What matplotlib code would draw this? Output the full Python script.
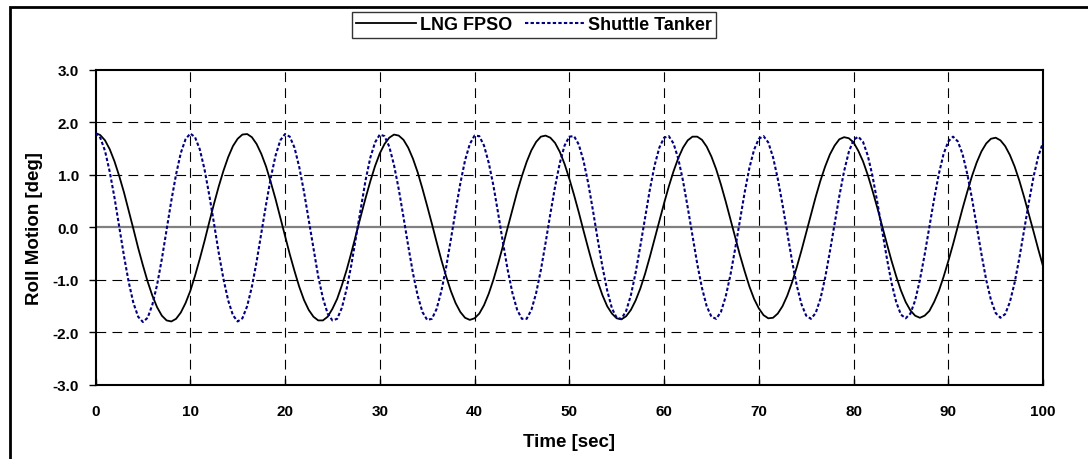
import numpy as np
import matplotlib
matplotlib.use('Agg')
import matplotlib.pyplot as plt
from matplotlib.patches import Rectangle
from matplotlib.ticker import FormatStrFormatter

plt.rcParams['font.family'] = ['Liberation Sans', 'DejaVu Sans']
plt.rcParams['font.weight'] = 'bold'
plt.rcParams['lines.scale_dashes'] = False

# sample times [sec], one reading every 0.5 s
time = np.arange(0, 100.5, 0.5)

# roll motion [deg]
lng_fpso = [
    1.80, 1.76, 1.66, 1.49, 1.26, 0.98, 0.67, 0.32, -0.03, -0.39,
    -0.72, -1.03, -1.30, -1.52, -1.68, -1.77, -1.79, -1.74, -1.62, -1.44,
    -1.21, -0.92, -0.60, -0.26, 0.10, 0.45, 0.78, 1.08, 1.34, 1.55,
    1.69, 1.77, 1.78, 1.72, 1.59, 1.40, 1.16, 0.86, 0.54, 0.19,
    -0.16, -0.51, -0.83, -1.13, -1.38, -1.57, -1.70, -1.77, -1.77, -1.70,
    -1.55, -1.36, -1.10, -0.81, -0.48, -0.13, 0.22, 0.56, 0.88, 1.17,
    1.41, 1.59, 1.71, 1.77, 1.75, 1.67, 1.52, 1.31, 1.05, 0.74,
    0.41, 0.07, -0.28, -0.62, -0.93, -1.21, -1.44, -1.61, -1.72, -1.76,
    -1.73, -1.64, -1.48, -1.26, -0.99, -0.68, -0.35, 0.00, 0.34, 0.68,
    0.98, 1.25, 1.47, 1.63, 1.73, 1.75, 1.71, 1.61, 1.44, 1.21,
    0.93, 0.62, 0.29, -0.06, -0.40, -0.73, -1.03, -1.29, -1.50, -1.64,
    -1.73, -1.75, -1.69, -1.57, -1.39, -1.16, -0.88, -0.56, -0.22, 0.12,
    0.46, 0.78, 1.07, 1.32, 1.52, 1.66, 1.73, 1.73, 1.67, 1.54,
    1.35, 1.11, 0.82, 0.50, 0.16, -0.18, -0.52, -0.83, -1.12, -1.36,
    -1.54, -1.67, -1.73, -1.72, -1.64, -1.50, -1.30, -1.05, -0.76, -0.44,
    -0.10, 0.24, 0.58, 0.89, 1.16, 1.39, 1.56, 1.68, 1.72, 1.70,
    1.62, 1.46, 1.26, 1.00, 0.70, 0.38, 0.04, -0.30, -0.63, -0.93,
    -1.20, -1.42, -1.58, -1.68, -1.72, -1.68, -1.59, -1.42, -1.21, -0.94,
    -0.64, -0.32, 0.02, 0.36, 0.68, 0.98, 1.24, 1.45, 1.60, 1.69,
    1.71, 1.66, 1.55, 1.38, 1.16, 0.89, 0.58, 0.25, -0.08, -0.42,
    -0.74,
]

shuttle_tanker = [
    1.80, 1.71, 1.46, 1.06, 0.57, 0.02, -0.54, -1.04, -1.44, -1.70,
    -1.80, -1.72, -1.47, -1.09, -0.60, -0.05, 0.51, 1.01, 1.42, 1.68,
    1.79, 1.72, 1.49, 1.11, 0.62, 0.08, -0.48, -0.98, -1.39, -1.67,
    -1.79, -1.73, -1.50, -1.13, -0.65, -0.11, 0.44, 0.95, 1.37, 1.66,
    1.78, 1.73, 1.52, 1.15, 0.68, 0.14, -0.41, -0.93, -1.35, -1.64,
    -1.77, -1.74, -1.53, -1.17, -0.71, -0.17, 0.38, 0.90, 1.33, 1.62,
    1.77, 1.74, 1.54, 1.19, 0.73, 0.20, -0.35, -0.87, -1.30, -1.61,
    -1.76, -1.74, -1.55, -1.21, -0.76, -0.23, 0.32, 0.84, 1.28, 1.59,
    1.75, 1.74, 1.56, 1.23, 0.79, 0.26, -0.29, -0.81, -1.25, -1.57,
    -1.74, -1.74, -1.57, -1.25, -0.81, -0.29, 0.26, 0.78, 1.23, 1.56,
    1.73, 1.74, 1.58, 1.27, 0.84, 0.32, -0.23, -0.75, -1.20, -1.54,
    -1.72, -1.74, -1.59, -1.29, -0.86, -0.35, 0.19, 0.72, 1.18, 1.52,
    1.71, 1.74, 1.60, 1.31, 0.89, 0.38, -0.16, -0.69, -1.15, -1.50,
    -1.70, -1.74, -1.61, -1.32, -0.91, -0.41, 0.13, 0.66, 1.13, 1.48,
    1.69, 1.74, 1.62, 1.34, 0.93, 0.44, -0.10, -0.63, -1.10, -1.46,
    -1.68, -1.74, -1.63, -1.36, -0.96, -0.46, 0.07, 0.60, 1.07, 1.44,
    1.67, 1.73, 1.63, 1.37, 0.98, 0.49, -0.04, -0.57, -1.05, -1.42,
    -1.66, -1.73, -1.64, -1.39, -1.00, -0.52, 0.01, 0.54, 1.02, 1.40,
    1.64, 1.73, 1.64, 1.40, 1.02, 0.55, 0.02, -0.51, -1.00, -1.38,
    -1.63, -1.72, -1.65, -1.42, -1.05, -0.58, -0.05, 0.48, 0.97, 1.36,
    1.62,
]

x_ticks = [0, 10, 20, 30, 40, 50, 60, 70, 80, 90, 100]
y_ticks = [-3, -2, -1, 0, 1, 2, 3]

fig = plt.figure(figsize=(10.88, 4.60), dpi=100)
ax = fig.add_axes([0.0878, 0.1609, 0.8709, 0.6848])

# outer frame of the chart area (only top/left visible)
fig.patches.append(Rectangle((10 / 1088, -0.1), 1.2, 1 - 8 / 460 + 0.1,
                             transform=fig.transFigure, fill=False,
                             edgecolor='black', linewidth=2.0))

# grid
for yv in y_ticks[1:-1]:
    if yv == 0:
        ax.axhline(0, color='#808080', linewidth=1.6, zorder=1)
    else:
        ax.axhline(yv, color='black', linewidth=0.8, linestyle=(0, (7, 4.5)), zorder=1)
for xv in x_ticks[1:-1]:
    ax.axvline(xv, color='black', linewidth=0.8, linestyle=(0, (7, 4.5)), zorder=1)

ax.plot(time, lng_fpso, color='black', linewidth=1.3, label='LNG FPSO', zorder=3)
ax.plot(time, shuttle_tanker, color='#000080', linewidth=1.5,
        linestyle=(0, (2.4, 1.6)), label='Shuttle Tanker', zorder=3)

ax.set_xlim(0, 100)
ax.set_ylim(-3, 3)
ax.set_xticks(x_ticks)
ax.set_yticks(y_ticks)
ax.yaxis.set_major_formatter(FormatStrFormatter('%.1f'))
ax.tick_params(axis='x', direction='in', length=4, width=1, pad=13.5, labelsize=11)
ax.tick_params(axis='y', direction='out', length=5, width=1, pad=7, labelsize=11)
for lab in ax.get_xticklabels() + ax.get_yticklabels():
    lab.set_fontweight('bold')
for sp in ax.spines.values():
    sp.set_linewidth(1.5)

ax.set_xlabel('Time [sec]', fontsize=13.5, fontweight='bold', labelpad=11)
ax.set_ylabel('Roll Motion [deg]', fontsize=13.5, fontweight='bold', labelpad=7)

leg = fig.legend(loc='center', bbox_to_anchor=(534 / 1088, 1 - 26 / 460), ncol=2,
                 fontsize=13, frameon=True, fancybox=False, shadow=False,
                 handlelength=3.3, handletextpad=0.2, columnspacing=0.7,
                 borderpad=0.25, borderaxespad=0)
leg.get_frame().set_edgecolor('black')
leg.get_frame().set_linewidth(1.0)
for txt in leg.get_texts():
    txt.set_fontweight('bold')

fig.savefig('out.png', dpi=100)
